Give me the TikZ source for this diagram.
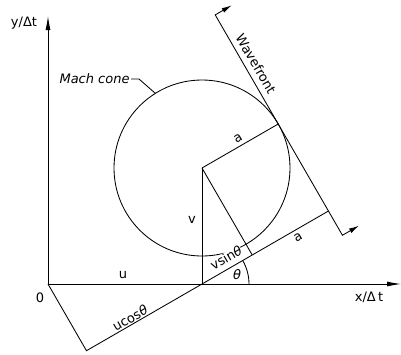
\documentclass[tikz,border=0pt]{standalone}
\usepackage{fontspec}
\setmainfont{DejaVu Sans}
\usetikzlibrary{calc,arrows.meta}
\newcommand{\thet}{{\itshape θ}}
\begin{document}
\begin{tikzpicture}[x=1pt,y=-1pt,line width=0.85pt,
  lbl/.style={font=\fontsize{13}{15}\selectfont, inner sep=1pt},
  axarrow/.style={-{Latex[length=14pt,width=5pt]}},
  wfarrow/.style={{Latex[length=10pt,width=5pt]}-{Latex[length=10pt,width=5pt]}}]
\useasboundingbox (0,0) rectangle (401,354);
% key points
\coordinate (O) at (48,284);
\coordinate (P) at (202,284);
\coordinate (C) at (202,168);
\coordinate (xtip) at (401,284);
\coordinate (ytip) at (48,16);
\coordinate (F) at ($(P)+(-30:58)$);
\coordinate (Q) at ($(F)+(-30:88)$);
\coordinate (T) at ($(C)+(-30:88)$);
\coordinate (B) at ($(P)+(150:133.4)$);
\coordinate (W1) at ($(T)+(-120:126)$);
\coordinate (W2) at ($(Q)+(60:28)$);
\coordinate (A1) at ($(W1)+(-30:19)$);
\coordinate (A2) at ($(W2)+(-30:19)$);
\coordinate (M1) at ($(C)+(-122:88)$);
\coordinate (Th) at ($(P)+(0:47)$);
% axes
\draw[axarrow] (O) -- (xtip);
\draw[axarrow] (O) -- (ytip);
% circle (Mach cone)
\draw (C) circle[radius=88];
% construction lines
\draw (O) -- (B) -- (Q);
\draw (P) -- (C);
\draw (C) -- (T);
\draw (C) -- (F);
\draw (Th) arc[start angle=0, end angle=-30, radius=47];
% wavefront
\draw[wfarrow] (A1) -- (W1) -- (W2) -- (A2);
% labels
\node[lbl] (ylab) at (24,23) {y/Δt};
\node[lbl] (xlab) at (369,297) {x/Δ\,t};
\node[lbl, font=\fontsize{13}{15}\selectfont\itshape, anchor=east] (mach) at (131,79) {Mach cone};
\draw (mach.east) -- ++(8,0) -- (M1);
\node[lbl, rotate=-60] (wf) at (256,64) {Wavefront};
\node[lbl, rotate=30] (a1) at (238,138) {a};
\node[lbl, rotate=30] (a2) at (298,237) {a};
\node[lbl] (vlab) at (192,220) {v};
\node[lbl] (ulab) at (123,275) {u};
\node[lbl] (zero) at (40,298) {0};
\node[lbl, rotate=30] (ucos) at (130,318) {ucos\thet};
\node[lbl, rotate=30, fill=white, inner sep=0.5pt] (vsin) at (226,258) {vsin\thet};
\node[lbl] (th) at (237,275) {\thet};
\end{tikzpicture}
\end{document}
